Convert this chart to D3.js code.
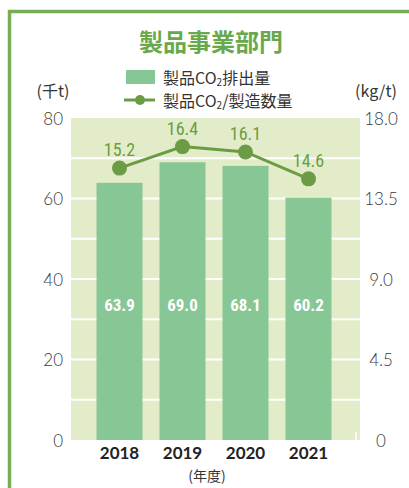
<!DOCTYPE html>
<html><head><meta charset="utf-8">
<script src="https://cdn.jsdelivr.net/npm/d3@7"></script>
<style>
body{margin:0;background:#fff;}
svg{display:block;}
</style></head>
<body>
<svg id="chart" width="409" height="488"></svg>
<script>
const years = ["2018","2019","2020","2021"];
const emissions = [63.9, 69.0, 68.1, 60.2];
const intensity = [15.2, 16.4, 16.1, 14.6];
const leftTicks = [0, 20, 40, 60, 80];
const rightTicks = [0, 4.5, 9.0, 13.5, 18.0];
const gridValues = [10, 20, 30, 40, 50, 60, 70];

const svg = d3.select("#chart");
const jp = "'Noto Sans CJK JP','Noto Sans',sans-serif";
const num = "'Lato','Noto Sans',sans-serif";
const narrow = "'Liberation Sans Narrow','Roboto Condensed','Liberation Sans',sans-serif";

// frame
svg.append("path").attr("d","M9.5,488 V11.5 H409").attr("fill","none")
  .attr("stroke","#77ae55").attr("stroke-width",3.5);

const plotL = 71, plotR = 360, plotT = 118, plotB = 440;
const yL = d3.scaleLinear().domain([0,80]).range([plotB,plotT]);
const yR = d3.scaleLinear().domain([0,18]).range([plotB,plotT]);
const x = d3.scaleBand().domain(years).range([88,340]).paddingInner(0.27).paddingOuter(0.135);

// plot bg
svg.append("rect").attr("x",plotL).attr("y",plotT).attr("width",plotR-plotL).attr("height",plotB-plotT).attr("fill","#e3ecc9");
// grid
svg.selectAll(".grid").data(gridValues).join("line")
  .attr("x1",plotL).attr("x2",plotR).attr("y1",d=>yL(d)).attr("y2",d=>yL(d))
  .attr("stroke","#fff").attr("stroke-width",2);
svg.append("line").attr("x1",plotR-4).attr("x2",plotR-4).attr("y1",plotB-8).attr("y2",plotB).attr("stroke","#fff").attr("stroke-width",1.5);

// bars
svg.selectAll(".bar").data(emissions).join("rect")
  .attr("x",(d,i)=>x(years[i])).attr("width",x.bandwidth())
  .attr("y",d=>yL(d)).attr("height",d=>plotB-yL(d)).attr("fill","#87c695");
svg.selectAll(".blab").data(emissions).join("text")
  .attr("x",(d,i)=>x(years[i])+x.bandwidth()/2).attr("y",yL(33.5))
  .attr("text-anchor","middle").attr("dominant-baseline","central")
  .attr("fill","#fff").attr("font-family",narrow).attr("font-weight","bold").attr("font-size",17)
  .text(d=>d.toFixed(1));

// line
const cx = (d,i)=>x(years[i])+x.bandwidth()/2;
svg.append("path").datum(intensity)
  .attr("d",d3.line().x(cx).y(d=>yR(d)))
  .attr("fill","none").attr("stroke","#6b9c45").attr("stroke-width",3);
svg.selectAll(".pt").data(intensity).join("circle")
  .attr("cx",cx).attr("cy",d=>yR(d)).attr("r",7.5).attr("fill","#6b9c45");
svg.selectAll(".plab").data(intensity).join("text")
  .attr("x",cx).attr("y",d=>yR(d)-12)
  .attr("text-anchor","middle").attr("fill","#6b9c45")
  .attr("font-family",narrow).attr("font-size",18)
  .text(d=>d.toFixed(1));

// left axis
svg.selectAll(".lt").data(leftTicks).join("text")
  .attr("x",63).attr("y",d=>yL(d)).attr("dominant-baseline","central")
  .attr("text-anchor","end").attr("fill","#3a3a3a").attr("font-family",num).attr("font-weight",300).attr("font-size",17)
  .text(d=>d);
// right axis
svg.selectAll(".rt").data(rightTicks).join("text")
  .attr("x",381).attr("y",d=>yR(d)).attr("dominant-baseline","central")
  .attr("text-anchor","middle").attr("fill","#3a3a3a").attr("font-family",num).attr("font-weight",300).attr("font-size",17)
  .text(d=>d===0?"0":d.toFixed(1));

// x labels
svg.selectAll(".xl").data(years).join("text")
  .attr("x",d=>x(d)+x.bandwidth()/2).attr("y",459)
  .attr("text-anchor","middle").attr("fill","#222").attr("font-family",num).attr("font-weight","bold").attr("font-size",17)
  .text(d=>d);
svg.append("text").attr("x",207).attr("y",481).attr("text-anchor","middle")
  .attr("fill","#333").attr("font-family",jp).attr("font-size",14).text("(年度)");

// units
svg.append("text").attr("x",53).attr("y",90).attr("dominant-baseline","central").attr("text-anchor","middle")
  .attr("fill","#333").attr("font-family",jp).attr("font-size",16).text("(千t)");
svg.append("text").attr("x",376).attr("y",90).attr("dominant-baseline","central").attr("text-anchor","middle")
  .attr("fill","#333").attr("font-family",jp).attr("font-size",16).text("(kg/t)");

// title
svg.append("text").attr("x",211).attr("y",51).attr("text-anchor","middle")
  .attr("fill","#69a84b").attr("font-family",jp).attr("font-weight","bold").attr("font-size",24)
  .text("製品事業部門");

// legend
svg.append("rect").attr("x",126).attr("y",70).attr("width",29).attr("height",14).attr("fill","#87c695");
const t1 = svg.append("text").attr("x",163).attr("y",77).attr("dominant-baseline","central")
  .attr("fill","#333").attr("font-family",jp).attr("font-size",16);
t1.append("tspan").text("製品CO");
t1.append("tspan").attr("font-size",10).attr("dy",4).text("2");
t1.append("tspan").attr("dy",-4).text("排出量");
svg.append("line").attr("x1",124).attr("x2",155).attr("y1",100).attr("y2",100).attr("stroke","#6b9c45").attr("stroke-width",3);
svg.append("circle").attr("cx",140).attr("cy",100).attr("r",5).attr("fill","#6b9c45");
const t2 = svg.append("text").attr("x",163).attr("y",100).attr("dominant-baseline","central")
  .attr("fill","#333").attr("font-family",jp).attr("font-size",16);
t2.append("tspan").text("製品CO");
t2.append("tspan").attr("font-size",10).attr("dy",4).text("2");
t2.append("tspan").attr("dy",-4).text("/製造数量");
</script>
</body></html>
